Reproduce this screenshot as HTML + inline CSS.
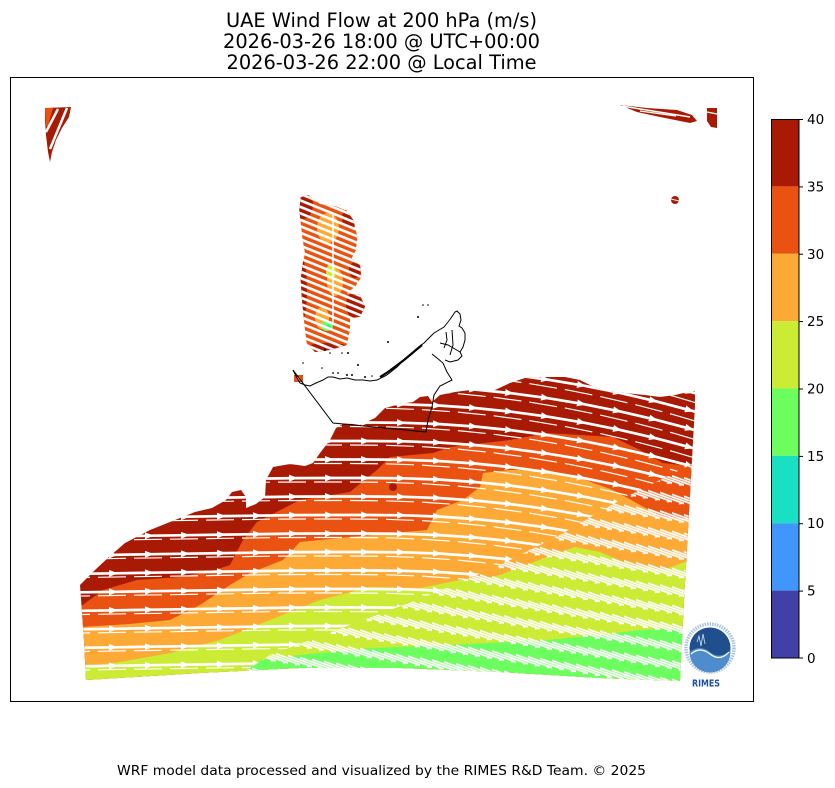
<!DOCTYPE html>
<html>
<head>
<meta charset="utf-8">
<style>
  html, body { margin: 0; padding: 0; background: #ffffff; }
  svg { display: block; }
  text { font-family: "DejaVu Sans", "Liberation Sans", sans-serif; fill: #000; }
</style>
</head>
<body>
<svg width="835" height="788" viewBox="0 0 835 788" xmlns="http://www.w3.org/2000/svg">
  <defs>
    <clipPath id="dom">
      <path d="M80,585 L95,570 110,556 125,543 150,530 175,520 195,512 212,508 226,500 232,492 241,490 246,497 246,508 256,504 265,497 266,480 273,467 290,464 305,466 313,463 320,453 330,440 336,428 345,423 360,425 375,418 385,408 400,404 413,402 420,397 428,396 432,402 440,395 455,392 470,390 480,390 495,390 510,383 525,378 545,377 565,377 580,380 592,386 605,391 625,393 645,395 660,397 675,395 688,392 695,391 L695,405 692,460 688,530 684,600 680,681 L600,678 500,672 400,668 300,668 200,673 86,680 L84,640 Z"/>
    </clipPath>
    <clipPath id="regA">
      <path d="M40,360 L720,360 720,460 700,460 620,500 560,535 500,565 430,595 350,625 270,655 200,700 40,700 Z"/>
    </clipPath>
    <clipPath id="regB">
      <path d="M200,700 L270,655 350,625 430,595 500,565 560,535 620,500 700,460 720,460 720,700 Z"/>
    </clipPath>
    <clipPath id="pen">
      <path d="M300.7,197.3 L308.3,195 320,204 335,206 346.7,210.7 353.3,220 357.3,236.7 356,250 351.7,258.3 360,265 361.7,276.7 355,286.7 346.7,293.3 360,295 365,306.7 360,316.7 350,318.3 350,330 346.7,345 330,350 315,352 306.7,343.3 305,330 303.3,313.3 301.7,296.7 300.7,280 302.7,263.3 305,253.3 302.7,240 300.7,223.3 299.3,210 Z"/>
    </clipPath>
    <marker id="ah" viewBox="0 0 9 7" refX="7" refY="3.5" markerWidth="9" markerHeight="7" markerUnits="userSpaceOnUse" orient="auto">
      <path d="M0,0 L9,3.5 L0,7 Z" fill="#ffffff"/>
    </marker>
    <path id="row" d="M44,3.8 L80,3.3 L116,2.8 L152,2.2 L188,1.7 L224,1.1 L260,0.6 L296,0.1 L332,0 L368,0 L404,0.3 L440,1.6 L476,4.1 L512,7.8 L548,12.7 L584,18.7 L620,25.9 L656,34.3 L692,43.8 L728,54.5" fill="none" stroke="#ffffff" stroke-width="2.7" marker-mid="url(#ah)" marker-end="url(#ah)"/>
    <path id="row2" d="M26,3.8 L62,3.3 L98,2.8 L134,2.2 L170,1.7 L206,1.1 L242,0.6 L278,0.1 L314,0 L350,0 L386,0.3 L422,1.6 L458,4.1 L494,7.8 L530,12.7 L566,18.7 L602,25.9 L638,34.3 L674,43.8 L710,54.5" fill="none" stroke="#ffffff" stroke-width="1.2" stroke-dasharray="28 8"/>
    <pattern id="hp" width="12" height="18.5" patternUnits="userSpaceOnUse" patternTransform="skewY(9) translate(0,15)">
      <g stroke="#ffffff" stroke-width="1.8">
        <line x1="0" y1="3" x2="12" y2="5.4"/>
        <line x1="0" y1="5.4" x2="12" y2="7.8"/>
        <line x1="0" y1="7.8" x2="12" y2="10.2"/>
      </g>
      <polygon points="7,8.4 12,10.2 7,12" fill="#ffffff"/>
    </pattern>
    <pattern id="ps" width="6" height="6" patternUnits="userSpaceOnUse" patternTransform="rotate(22)">
      <rect x="0" y="0" width="6" height="2.6" fill="#ffffff"/>
    </pattern>
  </defs>

  <rect x="0" y="0" width="835" height="788" fill="#ffffff"/>

  <!-- Titles -->
  <text x="381.5" y="27" font-size="19.4" text-anchor="middle" textLength="311" lengthAdjust="spacingAndGlyphs">UAE Wind Flow at 200 hPa (m/s)</text>
  <text x="381.5" y="48" font-size="19.4" text-anchor="middle" textLength="317" lengthAdjust="spacingAndGlyphs">2026-03-26 18:00 @ UTC+00:00</text>
  <text x="381.5" y="69" font-size="19.4" text-anchor="middle" textLength="310" lengthAdjust="spacingAndGlyphs">2026-03-26 22:00 @ Local Time</text>

  <!-- Main domain -->
  <g clip-path="url(#dom)">
    <rect x="60" y="370" width="650" height="330" fill="#a81a03"/>
    <path fill="#ea5212" d="M60,607 L80,607 103,590 137,580 180,577 215,570 230,565 243,540 257,522 300,500 350,492 377,470 390,457 433,453 450,447 510,440 547,433 613,437 640,450 663,463 700,467 L700,700 L60,700 Z"/>
    <ellipse cx="188" cy="564" rx="8" ry="5" fill="#a81a03"/>
    <circle cx="393" cy="487" r="4" fill="#a81a03"/>
    <path fill="#fcaa35" d="M60,627 L80,627 130,624 170,620 200,605 230,585 250,573 283,560 300,542 350,537 427,530 437,510 463,500 480,487 483,473 510,470 547,470 580,478 613,490 640,505 663,517 700,520 L700,700 L60,700 Z"/>
    <path fill="#cbeb35" d="M60,667 L80,667 120,662 170,653 220,640 270,620 320,600 370,587 420,588 460,580 490,577 500,575 547,557 575,547 600,552 630,565 663,570 690,560 700,560 L700,700 L60,700 Z"/>
    <path fill="#6cfd5e" d="M240,700 L245,672 260,660 300,655 370,648 450,645 547,640 600,635 640,630 690,628 700,628 L700,700 Z"/>

    <g clip-path="url(#regA)">
      <use href="#row" x="0" y="348.5"/>
      <use href="#row" x="0" y="367"/>
      <use href="#row" x="0" y="385.5"/>
      <use href="#row" x="0" y="404"/>
      <use href="#row" x="0" y="422.5"/>
      <use href="#row" x="0" y="441"/>
      <use href="#row" x="0" y="459.5"/>
      <use href="#row" x="0" y="478"/>
      <use href="#row" x="0" y="496.5"/>
      <use href="#row" x="0" y="515"/>
      <use href="#row" x="0" y="533.5"/>
      <use href="#row" x="0" y="552"/>
      <use href="#row" x="0" y="570.5"/>
      <use href="#row" x="0" y="589"/>
      <use href="#row" x="0" y="607.5"/>
      <use href="#row" x="0" y="626"/>
      <use href="#row" x="0" y="644.5"/>
      <use href="#row" x="0" y="663"/>
      <use href="#row" x="0" y="681.5"/>
      <use href="#row2" x="0" y="352.5"/>
      <use href="#row2" x="0" y="371"/>
      <use href="#row2" x="0" y="389.5"/>
      <use href="#row2" x="0" y="408"/>
      <use href="#row2" x="0" y="426.5"/>
      <use href="#row2" x="0" y="445"/>
      <use href="#row2" x="0" y="463.5"/>
      <use href="#row2" x="0" y="482"/>
      <use href="#row2" x="0" y="500.5"/>
      <use href="#row2" x="0" y="519"/>
      <use href="#row2" x="0" y="537.5"/>
      <use href="#row2" x="0" y="556"/>
      <use href="#row2" x="0" y="574.5"/>
      <use href="#row2" x="0" y="593"/>
      <use href="#row2" x="0" y="611.5"/>
      <use href="#row2" x="0" y="630"/>
      <use href="#row2" x="0" y="648.5"/>
      <use href="#row2" x="0" y="667"/>
    </g>
    <g clip-path="url(#regB)">
      <rect x="190" y="440" width="520" height="260" fill="url(#hp)"/>
    </g>
  </g>

  <!-- Peninsula -->
  <g clip-path="url(#pen)">
    <rect x="290" y="190" width="80" height="170" fill="#ea5212"/>
    <ellipse cx="303" cy="205" rx="10" ry="14" fill="#a81a03"/>
    <ellipse cx="350" cy="218" rx="8" ry="10" fill="#a81a03"/>
    <ellipse cx="356" cy="305" rx="10" ry="14" fill="#a81a03"/>
    <ellipse cx="302" cy="290" rx="5" ry="30" fill="#a81a03"/>
    <ellipse cx="328" cy="350" rx="25" ry="7" fill="#a81a03"/>
    <ellipse cx="355" cy="270" rx="6" ry="8" fill="#a81a03"/>
    <ellipse cx="328" cy="228" rx="11" ry="15" fill="#fcaa35"/>
    <ellipse cx="335" cy="282" rx="8" ry="14" fill="#fcaa35"/>
    <ellipse cx="322" cy="318" rx="7" ry="11" fill="#fcaa35"/>
    <ellipse cx="331" cy="272" rx="5" ry="8" fill="#cbeb35"/>
    <ellipse cx="327" cy="326" rx="6" ry="5" fill="#6cfd5e"/>
    <ellipse cx="328" cy="327" rx="2.5" ry="2" fill="#1ae0c3"/>
    <rect x="290" y="190" width="80" height="170" fill="url(#ps)"/>
    <line x1="333" y1="215" x2="333" y2="322" stroke="#ffffff" stroke-width="1.5"/>
  </g>

  <!-- Top-left sliver -->
  <path d="M45,108 L71,107 69,117 62,128 56,140 52,152 50,162 48,152 46,135 45,120 Z" fill="#a81a03"/>
  <path d="M45,108 L53,108 48,126 46,126 Z" fill="#ea5212"/>
  <line x1="46" y1="132" x2="58" y2="109" stroke="#fff" stroke-width="2.5"/>
  <line x1="50" y1="149" x2="67" y2="108" stroke="#fff" stroke-width="2.5"/>

  <!-- Top-right slivers -->
  <path d="M620,105 L647,108 677,110 692,115 697,121 690,123 680,121 660,117 637,112 Z" fill="#a81a03"/>
  <line x1="622" y1="106" x2="690" y2="117" stroke="#fff" stroke-width="1.5"/>
  <line x1="640" y1="111" x2="676" y2="116" stroke="#fff" stroke-width="1.2"/>
  <path d="M707,108 L717,108 717,128 711,127 707,121 Z" fill="#a81a03"/>
  <line x1="707" y1="112" x2="717" y2="114" stroke="#fff" stroke-width="1.2"/>
  <circle cx="675" cy="200" r="4" fill="#a81a03"/>
  <line x1="671" y1="199" x2="679" y2="201" stroke="#fff" stroke-width="1"/>

  <!-- small coastal patch -->
  <rect x="294" y="375" width="9" height="7" fill="#ea5212"/>
  <rect x="297" y="377" width="3" height="3" fill="#fcaa35"/>

  <!-- Coastlines and borders -->
  <g fill="none" stroke="#000" stroke-width="1">
    <path d="M293,370 L297,378 300,383 305,385 310,386 316,383 323,380 328,377 333,377 340,379 347,378 355,380 363,380 370,381 377,380 383,377 387,375 392,371 397,367 402,362 407,358 412,354 415,350 420,346 424,343 429,338 434,333 439,330 444,327 448,322 451,318 453,315 455,312 457,311 460,314 461,320 459,326 462,328 465,333 465,340 463,347 460,352"/>
    <path d="M293,370 L333,423 L426,432"/>
    <path d="M426,432 L428,420 432,407 434,395 440,386 452,380 447,372 443,363 437,358 432,354"/>
    <path d="M460,352 L462,356 458,360 450,362 445,360"/>
    <path d="M440,343 L448,345 455,349 460,352"/>
    <path d="M452,330 L453,345 450,355"/>
    <path d="M446,332 L447,340 444,348"/>
  </g>
  <g fill="none" stroke="#000" stroke-width="2.2">
    <path d="M380,377 L388,372 396,366 404,360 410,355 416,350 422,345"/>
  </g>
  <g fill="#000">
    <circle cx="388" cy="342" r="1"/>
    <circle cx="418" cy="317" r="1"/>
    <circle cx="423" cy="305" r="0.8"/>
    <circle cx="428" cy="305" r="0.8"/>
    <circle cx="325" cy="350" r="1"/>
    <circle cx="330" cy="353" r="0.8"/>
    <circle cx="342" cy="353" r="0.8"/>
    <circle cx="348" cy="353" r="1"/>
    <circle cx="303" cy="363" r="0.8"/>
    <circle cx="322" cy="368" r="0.8"/>
    <circle cx="358" cy="365" r="1"/>
    <circle cx="333" cy="373" r="0.9"/>
    <circle cx="338" cy="373" r="0.9"/>
    <circle cx="347" cy="375" r="1"/>
    <circle cx="352" cy="375" r="1"/>
    <circle cx="365" cy="377" r="1"/>
    <circle cx="372" cy="376" r="0.8"/>
  </g>

  <!-- RIMES logo -->
  <g>
    <circle cx="710" cy="648" r="24" fill="#ffffff" stroke="#a9c4e3" stroke-width="3.5" stroke-dasharray="1.5 1"/>
    <circle cx="710" cy="648" r="20.5" fill="#1f4f8d"/>
    <path d="M689.5,652 Q700,644 710,652 T730.5,650 L730.5,652 A20.5,20.5 0 0 1 689.5,652 Z" fill="#4f8ccb"/>
    <path d="M691,654 Q700,646 710,654 T729,652" fill="none" stroke="#ffffff" stroke-width="1.2"/>
    <path d="M697,642 L699,636 701,646 703,634 705,644" fill="none" stroke="#cfe0f3" stroke-width="0.8"/>
    <text x="706" y="686.5" font-size="10" font-weight="bold" text-anchor="middle" style="fill:#1c4f9a" textLength="28" lengthAdjust="spacingAndGlyphs">RIMES</text>
  </g>

  <!-- Axes frame -->
  <rect x="10.5" y="77.5" width="743" height="624" fill="none" stroke="#000" stroke-width="1"/>

  <!-- Colorbar -->
  <g>
    <rect x="771" y="119" width="28" height="67.4" fill="#a81a03"/>
    <rect x="771" y="186.4" width="28" height="67.4" fill="#ea5212"/>
    <rect x="771" y="253.75" width="28" height="67.4" fill="#fcaa35"/>
    <rect x="771" y="321.1" width="28" height="67.4" fill="#cbeb35"/>
    <rect x="771" y="388.5" width="28" height="67.4" fill="#6cfd5e"/>
    <rect x="771" y="455.9" width="28" height="67.4" fill="#1ae0c3"/>
    <rect x="771" y="523.25" width="28" height="67.4" fill="#4196fb"/>
    <rect x="771" y="590.6" width="28" height="67.4" fill="#4040a6"/>
    <rect x="771.5" y="119.5" width="27.5" height="538.5" fill="none" stroke="#000" stroke-width="1"/>
    <g stroke="#000" stroke-width="1">
      <line x1="799" y1="119.5" x2="803" y2="119.5"/>
      <line x1="799" y1="186.9" x2="803" y2="186.9"/>
      <line x1="799" y1="254.2" x2="803" y2="254.2"/>
      <line x1="799" y1="321.6" x2="803" y2="321.6"/>
      <line x1="799" y1="389" x2="803" y2="389"/>
      <line x1="799" y1="456.4" x2="803" y2="456.4"/>
      <line x1="799" y1="523.7" x2="803" y2="523.7"/>
      <line x1="799" y1="591.1" x2="803" y2="591.1"/>
      <line x1="799" y1="658" x2="803" y2="658"/>
    </g>
    <g font-size="13.5">
      <text x="807" y="124">40</text>
      <text x="807" y="191.4">35</text>
      <text x="807" y="258.8">30</text>
      <text x="807" y="326.1">25</text>
      <text x="807" y="393.5">20</text>
      <text x="807" y="460.9">15</text>
      <text x="807" y="528.2">10</text>
      <text x="807" y="595.6">5</text>
      <text x="807" y="663">0</text>
    </g>
  </g>

  <!-- Footer -->
  <text x="381.5" y="775" font-size="13.5" text-anchor="middle" textLength="529" lengthAdjust="spacingAndGlyphs">WRF model data processed and visualized by the RIMES R&amp;D Team. © 2025</text>
</svg>
</body>
</html>
